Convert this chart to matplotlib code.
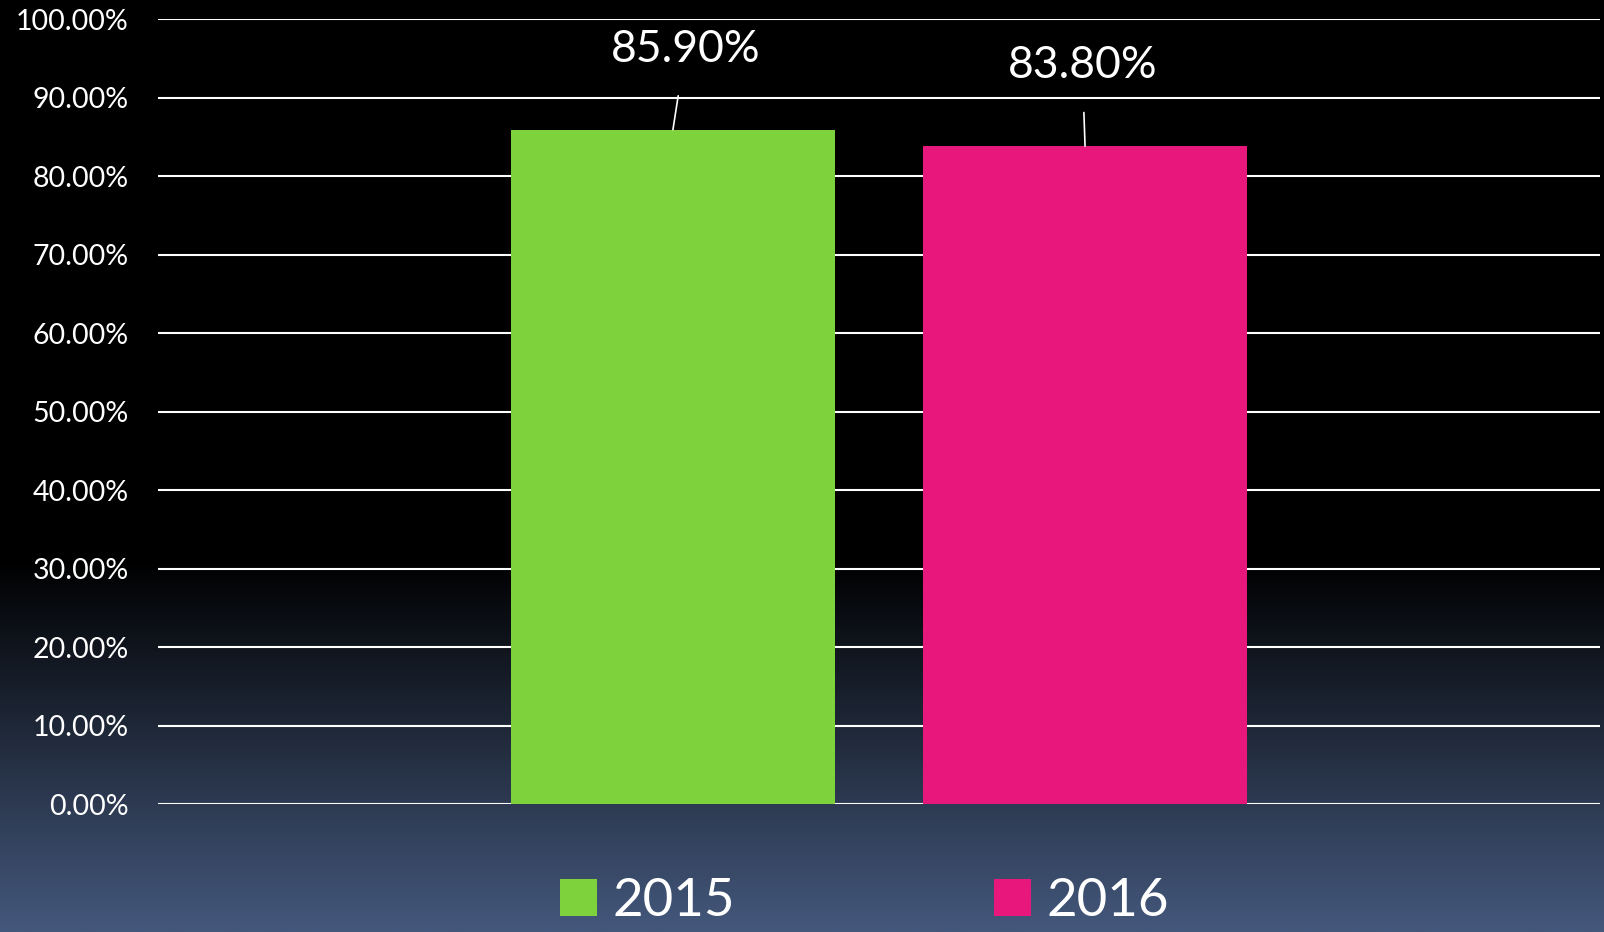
import numpy as np
import matplotlib.pyplot as plt
from matplotlib.colors import LinearSegmentedColormap
from matplotlib.patches import Patch

plt.rcParams['font.family'] = ['Lato', 'DejaVu Sans']

series = ['2015', '2016']
values = [85.9, 83.8]
colors = ['#7ed23c', '#e8177b']
label_dx = [9, -2]  # points

fig = plt.figure(figsize=(16.04, 9.32), dpi=100)

# background gradient: black on top, blue-grey at the bottom
bg = fig.add_axes([0, 0, 1, 1], zorder=-1)
rows = np.linspace(0, 1, 400)
grad = np.clip((rows - 0.6) / 0.4, 0, 1)
cmap = LinearSegmentedColormap.from_list('bg', ['#000000', '#44587c'])
bg.imshow(grad[:, None], aspect='auto', cmap=cmap, extent=[0, 1, 0, 1], origin='upper')
bg.axis('off')

ax = fig.add_axes([0.0985, 0.1373, 0.899, 0.8423])
ax.set_facecolor('none')
ax.set_xlim(-0.5, 0.5)
ax.set_ylim(0, 100)

width = 0.2247
offsets = [-0.1429, 0.1429]
for name, v, c, off, dx in zip(series, values, colors, offsets, label_dx):
    ax.bar(off, v, width=width, color=c, zorder=3)
    ax.annotate(f'{v:.2f}%', xy=(off, v), xytext=(dx, 58), textcoords='offset points',
                ha='center', va='center', color='white', fontsize=32,
                arrowprops=dict(arrowstyle='-', color='white', lw=1.2, shrinkA=17, shrinkB=0))

ax.set_yticks(np.arange(0, 101, 10))
ax.set_yticklabels([f'{t:.2f}%' for t in np.arange(0, 101, 10)])
ax.tick_params(axis='y', colors='white', labelsize=20.5, length=0, pad=21)
ax.set_xticks([])
ax.grid(axis='y', color='white', lw=1.5, zorder=1)
for s in ax.spines.values():
    s.set_visible(False)

handles = [Patch(facecolor=c, label=n) for n, c in zip(series, colors)]
leg = fig.legend(handles=handles, loc='center', bbox_to_anchor=(0.539, 1 - 901 / 932), ncol=2,
                 frameon=False, fontsize=38, handlelength=0.7, handleheight=0.7,
                 handletextpad=0.3, columnspacing=4.9, labelcolor='white')

fig.savefig('out.png', dpi=100)
